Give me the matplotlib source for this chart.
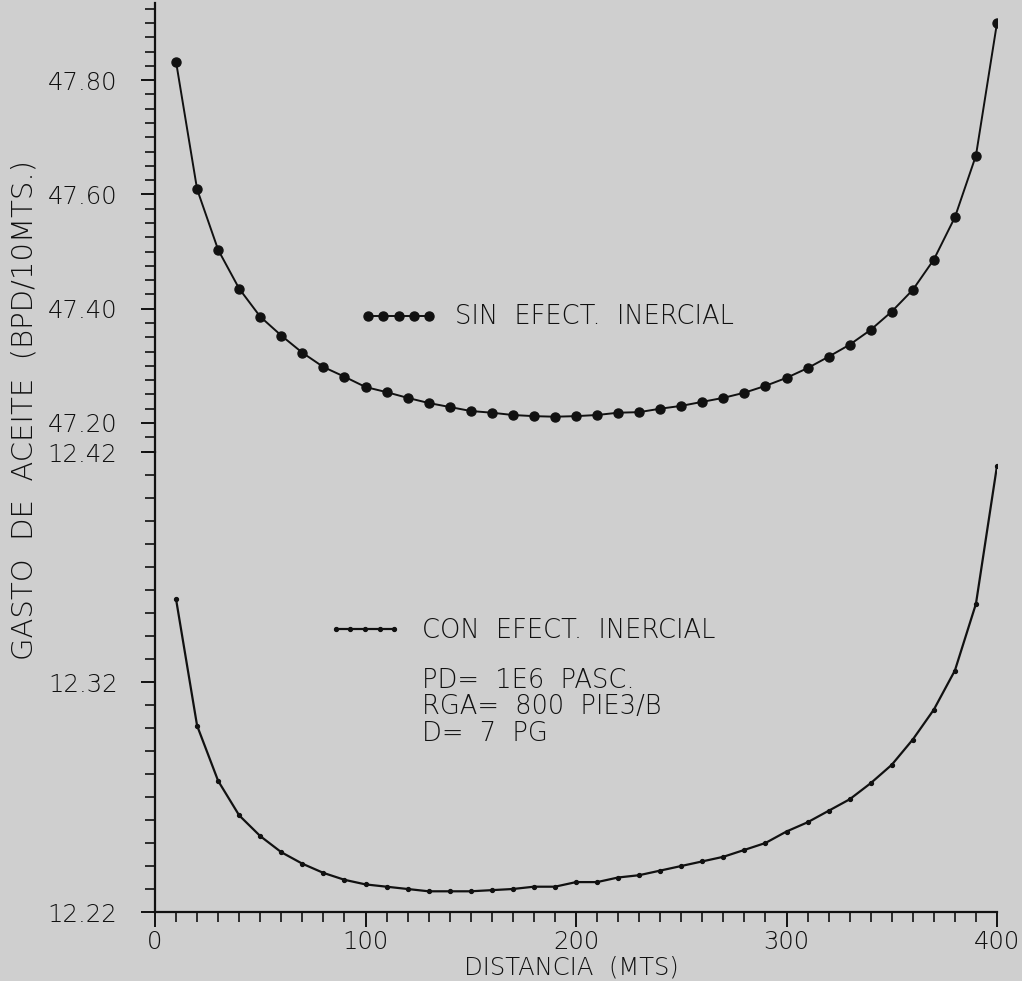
import numpy as np
import matplotlib
matplotlib.use("Agg")
import matplotlib.pyplot as plt
from matplotlib.ticker import MultipleLocator, FixedLocator

plt.rcParams["font.family"] = ["DejaVu Sans"]
plt.rcParams["font.weight"] = "light"

# distancia (m) y gasto de aceite (BPD/10 m)
distancia = list(range(10, 410, 10))
sin_efecto = [
	47.832, 47.609, 47.503, 47.435, 47.386, 47.353, 47.323, 47.298, 47.281, 47.263,
	47.254, 47.244, 47.235, 47.228, 47.221, 47.218, 47.214, 47.212, 47.211, 47.212,
	47.214, 47.218, 47.219, 47.225, 47.230, 47.237, 47.244, 47.253, 47.265, 47.279,
	47.296, 47.316, 47.337, 47.363, 47.395, 47.433, 47.486, 47.560, 47.668, 47.900,
]
con_efecto = [
	12.356, 12.301, 12.277, 12.262, 12.253, 12.246, 12.241, 12.237, 12.234, 12.232,
	12.231, 12.230, 12.229, 12.229, 12.229, 12.2295, 12.230, 12.231, 12.231, 12.233,
	12.233, 12.235, 12.236, 12.238, 12.240, 12.242, 12.244, 12.247, 12.250, 12.255,
	12.259, 12.264, 12.269, 12.276, 12.284, 12.295, 12.308, 12.325, 12.354, 12.414,
]
ticks_sup = [47.20, 47.40, 47.60, 47.80]
ticks_inf = [12.22, 12.32, 12.42]
ticks_x = [0, 100, 200, 300, 400]
parametros = ["PD=  1E6  PASC.", "RGA=  800  PIE3/B", "D=  7  PG"]

W, H = 1022, 981
FONDO = "#cfcfcf"
TINTA = "#111111"


def px(x, y):
	return x / W, 1 - y / H


def estilo_eje(ax):
	for s in ["top", "right"]:
		ax.spines[s].set_visible(False)
	ax.spines["left"].set_linewidth(1.6)
	ax.spines["left"].set_color(TINTA)
	ax.set_facecolor("none")
	ax.tick_params(axis="y", which="major", length=10, width=1.4, pad=17,
		labelsize=17.5, colors=TINTA, direction="out")
	ax.tick_params(axis="y", which="minor", length=7, width=1.2, colors=TINTA, direction="out")


fig = plt.figure(figsize=(W / 100, H / 100), dpi=100, facecolor=FONDO)

x0, _ = px(155, 0)
x1, _ = px(997, 0)
_, yb = px(0, 912)
_, ym = px(0, 452)
_, yt = px(0, 3)

ax_inf = fig.add_axes([x0, yb, x1 - x0, ym - yb])
ax_sup = fig.add_axes([x0, ym, x1 - x0, yt - ym], sharex=ax_inf)

# panel inferior: con efecto inercial
linea_con, = ax_inf.plot(distancia, con_efecto, color=TINTA, lw=1.6,
	marker="o", markersize=2.8, label="CON  EFECT.  INERCIAL")
ax_inf.set_xlim(0, 400)
ax_inf.set_ylim(12.22, 12.42)
estilo_eje(ax_inf)
ax_inf.spines["bottom"].set_linewidth(1.6)
ax_inf.spines["bottom"].set_color(TINTA)
ax_inf.yaxis.set_major_locator(FixedLocator(ticks_inf))
ax_inf.yaxis.set_minor_locator(MultipleLocator(0.01))
ax_inf.set_yticklabels([f"{v:.2f}" for v in ticks_inf])
ax_inf.xaxis.set_major_locator(FixedLocator(ticks_x))
ax_inf.xaxis.set_minor_locator(MultipleLocator(10))
ax_inf.tick_params(axis="x", which="major", length=11, width=1.4, pad=2,
	labelsize=17.5, colors=TINTA, direction="out")
ax_inf.tick_params(axis="x", which="minor", length=7, width=1.2, colors=TINTA, direction="out")

# panel superior: sin efecto inercial
esc = 0.2 / 114.3
linea_sin, = ax_sup.plot(distancia, sin_efecto, color=TINTA, lw=1.4,
	marker="o", markersize=6.5, label="SIN  EFECT.  INERCIAL")
ax_sup.set_ylim(47.20 - 29 * esc, 47.20 + 420 * esc)
estilo_eje(ax_sup)
ax_sup.spines["bottom"].set_visible(False)
ax_sup.yaxis.set_major_locator(FixedLocator(ticks_sup))
ax_sup.yaxis.set_minor_locator(MultipleLocator(0.025))
ax_sup.set_yticklabels([f"{v:.2f}" for v in ticks_sup])
ax_sup.tick_params(axis="x", which="both", bottom=False, labelbottom=False)

# leyendas
fs = 18.5
em = fs / 0.72
for linea, (lx, ly), largo, sep in [(linea_sin, (360, 317), 77, 18), (linea_con, (328, 630), 74, 20)]:
	leg = linea.axes.legend(handles=[linea], loc="center left", bbox_to_anchor=px(lx, ly),
		bbox_transform=fig.transFigure, frameon=False, numpoints=5,
		handlelength=largo / em, handletextpad=sep / em, borderpad=0, borderaxespad=0,
		prop={"size": fs, "weight": "light"})
	for t in leg.get_texts():
		t.set_color(TINTA)

fig.text(*px(422, 707), "\n".join(parametros), fontsize=18.5, color=TINTA,
	ha="left", va="center", linespacing=1.06)

fig.text(*px(25, 410), "GASTO  DE  ACEITE  (BPD/10MTS.)", rotation=90,
	fontsize=21, color=TINTA, ha="center", va="center")
fig.text(*px(571, 967), "DISTANCIA  (MTS)", fontsize=17.5, color=TINTA,
	ha="center", va="center")

fig.savefig("out.png", dpi=100, facecolor=FONDO)
